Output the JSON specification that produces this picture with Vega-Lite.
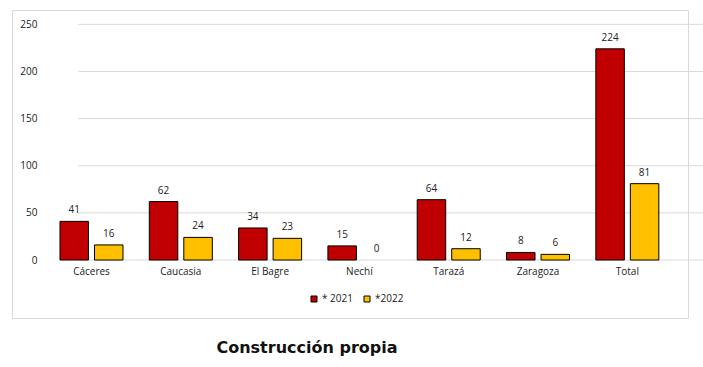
{
  "$schema": "https://vega.github.io/schema/vega-lite/v6.json",
  "width": 676,
  "height": 308,
  "autosize": {"type": "none"},
  "padding": {"left": 12, "top": 10, "right": 15, "bottom": 49},
  "background": "white",
  "title": {
    "text": "Construcción propia",
    "orient": "bottom",
    "anchor": "middle",
    "font": "DejaVu Sans",
    "fontSize": 16,
    "fontWeight": "bold",
    "color": "#111111",
    "offset": 22,
    "dx": -43,
    "baseline": "top"
  },
  "datasets": {
    "values": [
      {"cat": "Cáceres", "serie": "* 2021", "val": 41},
      {"cat": "Cáceres", "serie": "*2022", "val": 16},
      {"cat": "Caucasia", "serie": "* 2021", "val": 62},
      {"cat": "Caucasia", "serie": "*2022", "val": 24},
      {"cat": "El Bagre", "serie": "* 2021", "val": 34},
      {"cat": "El Bagre", "serie": "*2022", "val": 23},
      {"cat": "Nechí", "serie": "* 2021", "val": 15},
      {"cat": "Nechí", "serie": "*2022", "val": 0},
      {"cat": "Tarazá", "serie": "* 2021", "val": 64},
      {"cat": "Tarazá", "serie": "*2022", "val": 12},
      {"cat": "Zaragoza", "serie": "* 2021", "val": 8},
      {"cat": "Zaragoza", "serie": "*2022", "val": 6},
      {"cat": "Total", "serie": "* 2021", "val": 224},
      {"cat": "Total", "serie": "*2022", "val": 81}
    ],
    "grid": [{"v": 0}, {"v": 50}, {"v": 100}, {"v": 150}, {"v": 200}, {"v": 250}]
  },
  "config": {
    "view": {"stroke": "#d9d9d9", "strokeWidth": 1},
    "axis": {"labelFont": "Open Sans", "labelFontSize": 10, "labelColor": "#222222"},
    "legend": {"labelFont": "Open Sans", "labelFontSize": 10, "labelColor": "#222222"}
  },
  "layer": [
    {
      "data": {"name": "grid"},
      "mark": {"type": "rule", "color": "#d9d9d9", "strokeWidth": 1, "xOffset": -13.2, "x2Offset": 76.2},
      "encoding": {
        "y": {"field": "v", "type": "quantitative"},
        "x": {"datum": "Cáceres", "type": "nominal"},
        "x2": {"datum": "Total"}
      }
    },
    {
      "data": {"name": "values"},
      "mark": {"type": "bar", "stroke": "black", "strokeWidth": 1},
      "encoding": {
        "x": {
          "field": "cat",
          "type": "nominal",
          "sort": null,
          "scale": {"domain": ["Cáceres", "Caucasia", "El Bagre", "Nechí", "Tarazá", "Zaragoza", "Total"], "paddingInner": 0.2945, "paddingOuter": 0.432, "align": 0.622},
          "axis": {"orient": "bottom", "offset": -58, "ticks": false, "domain": false, "labelAngle": 0, "labelAlign": "center", "labelPadding": 11, "title": null, "grid": false, "bandPosition": 0.5}
        },
        "xOffset": {"field": "serie", "type": "nominal", "scale": {"paddingInner": 0.174, "paddingOuter": 0}},
        "y": {
          "field": "val",
          "type": "quantitative",
          "scale": {"domain": [-61.5, 265.2], "nice": false, "zero": false},
          "axis": {"values": [0, 50, 100, 150, 200, 250], "grid": false, "ticks": false, "domain": false, "title": null, "offset": -28, "labelPadding": 3}
        },
        "y2": {"datum": 0},
        "strokeOpacity": {"condition": {"test": "datum.val === 0", "value": 0}, "value": 1},
        "color": {
          "field": "serie",
          "type": "nominal",
          "scale": {"domain": ["* 2021", "*2022"], "range": ["#C00000", "#FFC000"]},
          "legend": {
            "orient": "none",
            "legendX": 297,
            "legendY": 284,
            "direction": "horizontal",
            "title": null,
            "symbolType": "square",
            "symbolSize": 36,
            "symbolStrokeColor": "black",
            "symbolStrokeWidth": 1,
            "symbolOpacity": 1,
            "labelOffset": 3,
            "columnPadding": 9,
            "padding": 0
          }
        }
      }
    },
    {
      "data": {"name": "values"},
      "mark": {"type": "text", "dy": -8, "baseline": "alphabetic", "font": "Open Sans", "fontSize": 10, "color": "#222222"},
      "encoding": {
        "x": {"field": "cat", "type": "nominal", "sort": null},
        "xOffset": {"field": "serie", "type": "nominal"},
        "y": {"field": "val", "type": "quantitative"},
        "text": {"field": "val", "type": "quantitative"}
      }
    }
  ]
}
